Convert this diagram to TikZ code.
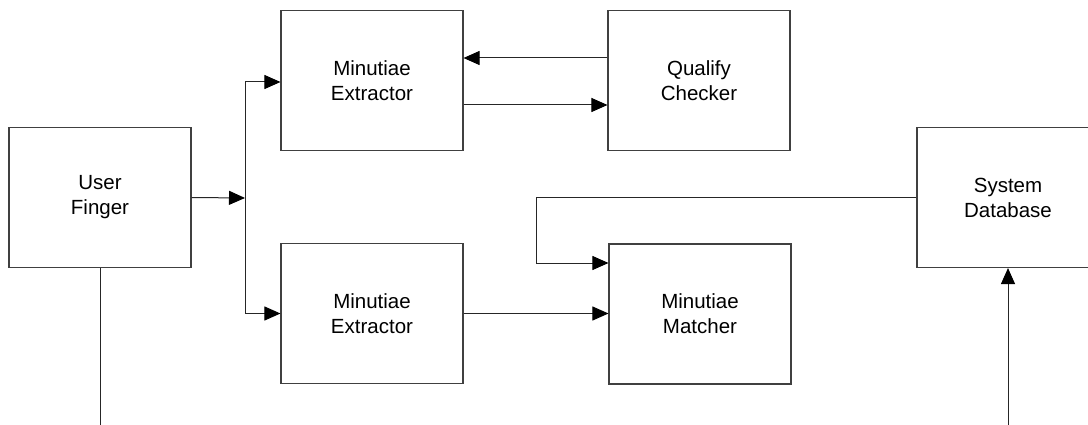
\documentclass[tikz,border=0pt]{standalone}
\usepackage{fontspec}
\setmainfont{Liberation Sans}
\usetikzlibrary{arrows.meta}

\tikzset{
  block/.style={draw=black!75, line width=1.1pt, fill=white,
    minimum width=182pt, minimum height=140pt, inner sep=0pt,
    align=center, font=\fontsize{20.5}{25}\selectfont},
  link/.style={draw=black!85, line width=1pt},
  arr/.style={link, -{Triangle[length=16pt,width=14pt,color=black]}}
}

\begin{document}
\begin{tikzpicture}[x=1pt,y=-1pt]
  \clip (0,0) rectangle (1088,425);
  \fill[white] (0,0) rectangle (1088,425);

  % blocks
  \node[block] (uf)  at (100,197.5) {User\\Finger};
  \node[block] (me1) at (372,80.5)  {Minutiae\\Extractor};
  \node[block] (qc)  at (699,80.5)  {Qualify\\Checker};
  \node[block] (me2) at (372,313.5) {Minutiae\\Extractor};
  \node[block] (mm)  at (700,314)   {Minutiae\\Matcher};
  \node[block] (sd)  at (1008,197.5){System\\Database};

  % helper points
  \coordinate (j)    at (245,198);
  \coordinate (fb)   at (536,263);
  \coordinate (ufin) at (100,425);
  \coordinate (sdin) at (1008,425);

  % finger to both extractors
  \draw[arr] (uf.east) -- (j);
  \draw[arr] (j) |- ([yshift=-1.5pt]me1.west);
  \draw[arr] (j) |- (me2.west);

  % extractor <-> quality checker
  \draw[arr] ([yshift=22.5pt]qc.west) -- ([yshift=22.5pt]me1.east);
  \draw[arr] ([yshift=-24.5pt]me1.east) -- ([yshift=-24.5pt]qc.west);

  % matching path
  \draw[arr] (me2.east) -- (me2.east -| mm.west);
  \draw[arr] (sd.west) -| (fb) -- (fb -| mm.west);

  % inputs from below
  \draw[link] (uf.south) -- (ufin);
  \draw[arr] (sdin) -- (sd.south);
\end{tikzpicture}
\end{document}
